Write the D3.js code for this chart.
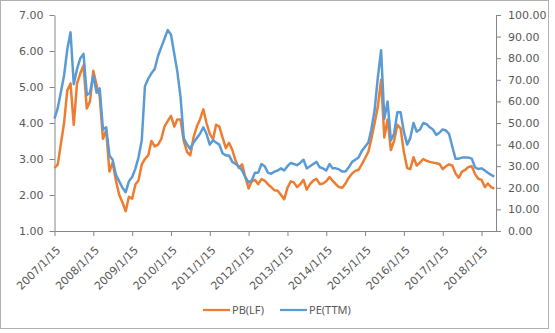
<!DOCTYPE html>
<html>
<head>
<meta charset="utf-8">
<script src="https://cdn.jsdelivr.net/npm/d3@7"></script>
<style>
  html, body { margin: 0; padding: 0; background: #fff; }
  svg { display: block; }
</style>
</head>
<body>
<svg id="chart" width="555" height="333"></svg>
<script>
// Monthly observations (mid-month)
const months = [
  "2007-01","2007-02","2007-03","2007-04","2007-05","2007-06","2007-07","2007-08","2007-09","2007-10","2007-11","2007-12",
  "2008-01","2008-02","2008-03","2008-04","2008-05","2008-06","2008-07","2008-08","2008-09","2008-10","2008-11","2008-12",
  "2009-01","2009-02","2009-03","2009-04","2009-05","2009-06","2009-07","2009-08","2009-09","2009-10","2009-11","2009-12",
  "2010-01","2010-02","2010-03","2010-04","2010-05","2010-06","2010-07","2010-08","2010-09","2010-10","2010-11","2010-12",
  "2011-01","2011-02","2011-03","2011-04","2011-05","2011-06","2011-07","2011-08","2011-09","2011-10","2011-11","2011-12",
  "2012-01","2012-02","2012-03","2012-04","2012-05","2012-06","2012-07","2012-08","2012-09","2012-10","2012-11","2012-12",
  "2013-01","2013-02","2013-03","2013-04","2013-05","2013-06","2013-07","2013-08","2013-09","2013-10","2013-11","2013-12",
  "2014-01","2014-02","2014-03","2014-04","2014-05","2014-06","2014-07","2014-08","2014-09","2014-10","2014-11","2014-12",
  "2015-01","2015-02","2015-03","2015-04","2015-05","2015-06","2015-07","2015-08","2015-09","2015-10","2015-11","2015-12",
  "2016-01","2016-02","2016-03","2016-04","2016-05","2016-06","2016-07","2016-08","2016-09","2016-10","2016-11","2016-12",
  "2017-01","2017-02","2017-03","2017-04","2017-05","2017-06","2017-07","2017-08","2017-09","2017-10","2017-11","2017-12",
  "2018-01","2018-02","2018-03","2018-04","2018-05"
];

// Price-to-book (left axis)
const pbLF = [
  2.75, 2.85, 3.40, 4.00, 4.90, 5.10, 3.95, 5.10, 5.38, 5.60, 4.40, 4.60,
  5.45, 5.05, 4.75, 3.56, 3.80, 2.65, 2.90, 2.40, 2.00, 1.80, 1.55, 1.95,
  1.90, 2.30, 2.40, 2.85, 3.00, 3.10, 3.50, 3.35, 3.40, 3.55, 3.90, 4.05,
  4.20, 3.90, 4.10, 4.10, 3.50, 3.20, 3.10, 3.60, 3.90, 4.10, 4.38, 4.00,
  3.70, 3.55, 3.95, 3.90, 3.60, 3.30, 3.45, 3.25, 2.95, 2.75, 2.85, 2.50,
  2.18, 2.38, 2.42, 2.30, 2.44, 2.40, 2.30, 2.22, 2.13, 2.12, 2.00, 1.88,
  2.20, 2.38, 2.35, 2.22, 2.30, 2.42, 2.15, 2.30, 2.40, 2.45, 2.30, 2.32,
  2.38, 2.50, 2.40, 2.30, 2.22, 2.20, 2.32, 2.48, 2.60, 2.67, 2.70, 2.85,
  3.02, 3.20, 3.55, 4.00, 4.45, 5.20, 3.60, 4.10, 3.25, 3.50, 3.95, 3.85,
  3.20, 2.75, 2.72, 3.05, 2.82, 2.90, 3.00, 2.95, 2.92, 2.90, 2.88, 2.86,
  2.72, 2.80, 2.85, 2.82, 2.60, 2.48, 2.65, 2.70, 2.78, 2.80, 2.58, 2.45,
  2.42, 2.22, 2.32, 2.22, 2.18
];

// Trailing price-to-earnings (right axis)
const peTTM = [
  52, 57, 64, 72, 84, 92, 68, 75, 80, 82, 63, 64,
  72, 64, 66, 47, 48, 35, 33, 26, 23, 20, 18, 23,
  25, 29, 34, 42, 67, 70.5, 73, 75, 81, 85, 89, 93,
  91, 82, 74, 62, 43, 40, 38, 41, 43, 45, 48, 45,
  40, 42, 41, 40, 36, 35, 35, 32, 31, 30, 28, 25,
  22.5, 23.5, 27, 27, 31, 30, 27, 26.5, 27.5, 28, 29, 28,
  30, 31.5, 31, 30.5, 31.5, 33, 29, 30, 31, 32, 29.5, 29,
  28, 31, 29, 29, 28.5, 27.5, 27.5, 29.5, 32, 33, 34, 37,
  39, 41, 47, 56, 71, 83.7, 52, 60, 42, 45, 55, 55,
  46, 40, 43, 50, 46, 47, 50, 49.5, 48, 47, 44.5, 45.5,
  47, 46.5, 45, 39, 33.5, 33.5, 34, 34, 34, 33.5, 29.5, 28.7,
  29, 28, 27, 26, 25.2
];

const yearTicks = [
  "2007/1/15","2008/1/15","2009/1/15","2010/1/15","2011/1/15","2012/1/15",
  "2013/1/15","2014/1/15","2015/1/15","2016/1/15","2017/1/15","2018/1/15"
];
const pbTicks = [1, 2, 3, 4, 5, 6, 7];
const peTicks = [0, 10, 20, 30, 40, 50, 60, 70, 80, 90, 100];
const seriesNames = ["PB(LF)", "PE(TTM)"];
const seriesColors = ["#ED7D31", "#5B9BD5"];

const parseMonth = d3.timeParse("%Y-%m-%d");
const parseTick = d3.timeParse("%Y/%m/%d");
const dates = months.map(m => parseMonth(m + "-15"));
const tickDates = yearTicks.map(parseTick);

const svg = d3.select("#chart");
const plot = { left: 54.5, right: 496, top: 15, bottom: 231 };

// chart frame
svg.append("rect")
  .attr("x", 0.5).attr("y", 0.5)
  .attr("width", 548).attr("height", 328)
  .attr("fill", "#fff")
  .attr("stroke", "#b0b0b0")
  .attr("stroke-width", 1);

const x = d3.scaleTime()
  .domain([parseTick("2007/1/15"), parseTick("2018/5/31")])
  .range([plot.left, plot.right]);
const yL = d3.scaleLinear().domain([1, 7]).range([plot.bottom, plot.top]);
const yR = d3.scaleLinear().domain([0, 100]).range([plot.bottom, plot.top]);

const axisColor = "#868686";
const textColor = "#595959";
const tickFont = "DejaVu Sans, Verdana, sans-serif";

function styleAxis(g) {
  g.selectAll("path, line").attr("stroke", axisColor).attr("stroke-width", 1);
  g.selectAll("text")
    .attr("fill", textColor)
    .style("font-family", tickFont)
    .style("font-size", "11px");
}

// left axis (PB)
svg.append("g")
  .attr("transform", `translate(${plot.left},0)`)
  .call(d3.axisLeft(yL).tickValues(pbTicks).tickFormat(d3.format(".2f"))
    .tickSize(5).tickSizeOuter(0).tickPadding(6))
  .call(styleAxis);

// right axis (PE)
svg.append("g")
  .attr("transform", `translate(${plot.right},0)`)
  .call(d3.axisRight(yR).tickValues(peTicks).tickFormat(d3.format(".2f"))
    .tickSize(5).tickSizeOuter(0).tickPadding(7))
  .call(styleAxis);

// bottom axis with slanted date labels
svg.append("g")
  .attr("transform", `translate(0,${plot.bottom})`)
  .call(d3.axisBottom(x).tickValues(tickDates).tickFormat(() => "")
    .tickSize(5).tickSizeOuter(0))
  .call(styleAxis);

svg.append("g").selectAll("text")
  .data(tickDates)
  .join("text")
  .attr("transform", (d) => `translate(${x(d) + 4},${plot.bottom + 17}) rotate(-45)`)
  .attr("text-anchor", "end")
  .attr("dy", "0.35em")
  .attr("fill", textColor)
  .style("font-family", tickFont)
  .style("font-size", "11px")
  .text((d, i) => yearTicks[i]);

// series lines
const pbLine = d3.line()
  .x((d, i) => x(dates[i]))
  .y(d => yL(d));
const peLine = d3.line()
  .x((d, i) => x(dates[i]))
  .y(d => yR(d));

svg.append("path")
  .datum(pbLF)
  .attr("d", pbLine)
  .attr("fill", "none")
  .attr("stroke", seriesColors[0])
  .attr("stroke-width", 2.5)
  .attr("stroke-linejoin", "round");

svg.append("path")
  .datum(peTTM)
  .attr("d", peLine)
  .attr("fill", "none")
  .attr("stroke", seriesColors[1])
  .attr("stroke-width", 2.5)
  .attr("stroke-linejoin", "round");

// legend
const legendItems = [
  { name: seriesNames[0], color: seriesColors[0], x0: 203 },
  { name: seriesNames[1], color: seriesColors[1], x0: 280 }
];
const legend = svg.append("g").attr("transform", "translate(0,310)");
legendItems.forEach(item => {
  legend.append("line")
    .attr("x1", item.x0).attr("x2", item.x0 + 27)
    .attr("y1", 0).attr("y2", 0)
    .attr("stroke", item.color)
    .attr("stroke-width", 2.25);
  legend.append("text")
    .attr("x", item.x0 + 29)
    .attr("y", 0)
    .attr("dy", "0.35em")
    .attr("fill", textColor)
    .style("font-family", "Noto Sans, sans-serif")
    .style("font-size", "11px")
    .text(item.name);
});
</script>
</body>
</html>
